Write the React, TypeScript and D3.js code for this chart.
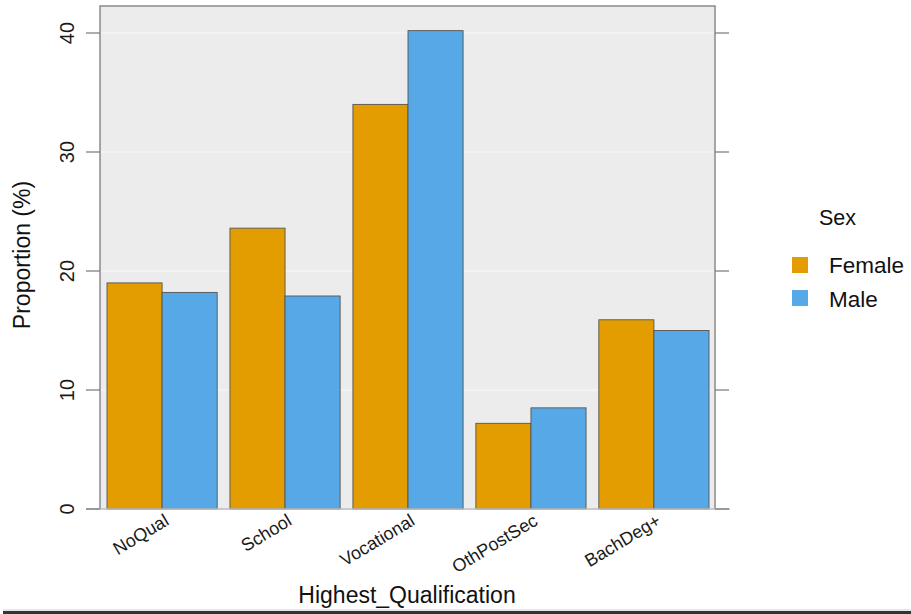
import React from "react";
import * as d3 from "d3";

const categories = ["NoQual", "School", "Vocational", "OthPostSec", "BachDeg+"];
const femaleValues = [19.0, 23.6, 34.0, 7.2, 15.9];
const maleValues = [18.2, 17.9, 40.2, 8.5, 15.0];
const seriesNames = ["Female", "Male"];
const seriesColors = ["#E39D00", "#56A9E6"];
const yTicks = [0, 10, 20, 30, 40];

export default function App() {
  const W = 911, H = 614;
  const panelL = 100, panelR = 715, panelT = 6, panelB = 509;
  const y = d3.scaleLinear().domain([0, 40]).range([509, 33]);
  const x = d3.scaleBand<string>().domain(categories).range([107, 709]).paddingInner(0.104).paddingOuter(0);
  const xs = d3.scaleBand<string>().domain(seriesNames).range([0, x.bandwidth()]);
  const values = [femaleValues, maleValues];
  const font = "Liberation Sans, Arial, sans-serif";
  return (
    <svg width={W} height={H} style={{ position: "absolute", left: 0, top: 0, background: "#fff" }} fontFamily={font}>
      <rect x={0} y={0} width={W} height={H} fill="#fff" />
      <rect x={panelL} y={panelT} width={panelR - panelL} height={panelB - panelT} fill="#ececec" />
      {yTicks.map((t) => (
        <line key={"g" + t} x1={panelL} x2={panelR} y1={y(t)} y2={y(t)} stroke="#f7f7f7" strokeWidth={1.2} />
      ))}
      {categories.map((c, i) =>
        seriesNames.map((s, j) => {
          const v = values[j][i];
          return (
            <rect key={c + s} x={(x(c) as number) + (xs(s) as number)} y={y(v)} width={xs.bandwidth()} height={y(0) - y(v)}
              fill={seriesColors[j]} stroke="#555" strokeWidth={0.9} />
          );
        })
      )}
      <path d={`M${panelL},${panelB}V${panelT}H${panelR}V${panelB}`} fill="none" stroke="#8a8a8a" strokeWidth={1.5} />
      <line x1={86} x2={730} y1={panelB} y2={panelB} stroke="#bdbdbd" strokeWidth={1.5} />
      {yTicks.map((t) => (
        <g key={"t" + t}>
          <line x1={86} x2={panelL} y1={y(t)} y2={y(t)} stroke="#777" strokeWidth={1.2} />
          <line x1={panelR} x2={729} y1={y(t)} y2={y(t)} stroke="#777" strokeWidth={1.2} />
          <text transform={`translate(74,${y(t)}) rotate(-90)`} textAnchor="middle" fontSize={20} fill="#1a1a1a">{t}</text>
        </g>
      ))}
      <text transform={`translate(30,255) rotate(-90)`} textAnchor="middle" fontSize={23} fill="#111">Proportion (%)</text>
      {categories.map((c) => {
        const cx = (x(c) as number) + x.bandwidth() / 2;
        return (
          <text key={"xl" + c} transform={`translate(${cx + 8},${524}) rotate(-31)`} textAnchor="end" fontSize={18} fill="#1a1a1a">{c}</text>
        );
      })}
      <text x={407} y={603} textAnchor="middle" fontSize={23} fill="#111">Highest_Qualification</text>
      <text x={819} y={225} fontSize={21.5} fill="#111">Sex</text>
      {seriesNames.map((s, j) => (
        <g key={"lg" + s}>
          <rect x={792} y={257 + j * 33} width={16} height={16} fill={seriesColors[j]} />
          <text x={829} y={273 + j * 34} fontSize={22.5} fill="#111">{s}</text>
        </g>
      ))}
      <line x1={3} x2={W} y1={610} y2={610} stroke="#cfcfcf" strokeWidth={1} />
      <line x1={3} x2={W} y1={612.5} y2={612.5} stroke="#333" strokeWidth={3} />
    </svg>
  );
}
